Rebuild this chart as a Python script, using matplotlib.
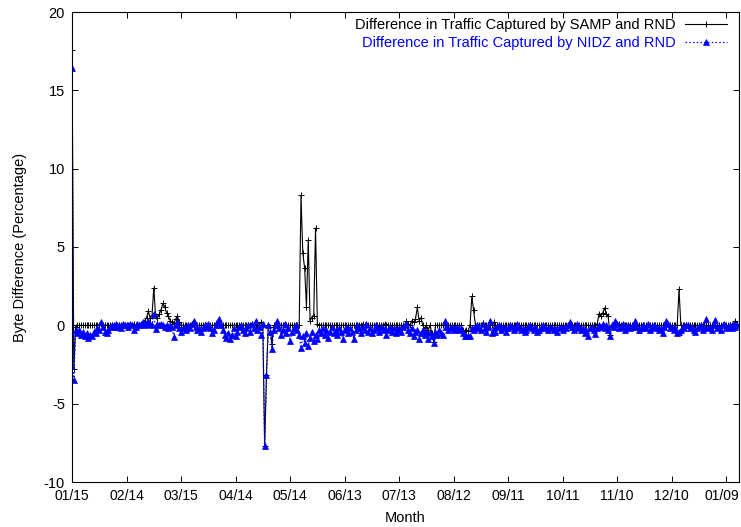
import numpy as np
import matplotlib
matplotlib.use("Agg")
import matplotlib.pyplot as plt
from matplotlib.transforms import ScaledTranslation

plt.rcParams.update({
    "font.family": ["Liberation Sans", "DejaVu Sans"],
    "font.size": 10.5,
    "axes.linewidth": 0.8,
    "axes.unicode_minus": False,
})

# daily byte difference (%) over one year, day 0 = 01/15
samp_rnd = [
    17.6, -2.8, -0.1, 0, 0, 0, 0, 0, 0, 0, 0, 0, 0, 0, 0, 0, 0.1, 0, 0, 0, 0, 0, 0, 0, 0, 0, 0, 0, 0, 0,
    0, 0, 0, 0, 0.1, 0, 0, 0, 0, 0.1, 0.3, 0.5, 0.9, 0.5, 0.6, 2.4, 0.6, 0.5, 0.7, 1.0, 1.4, 1.2, 0.8, 0.6, 0.3, 0.2, 0.1, 0.4, 0.6, 0.2,
    0, 0, 0, 0, 0, 0, 0.1, 0, 0, 0, 0, 0, 0, 0, 0, 0, 0, 0, 0, 0, 0, 0.1, 0, 0, 0, 0, 0, 0, 0, 0,
    0, 0, 0, 0, 0, 0, 0, 0, 0, 0.1, 0, 0, 0, 0, 0.2, 0, -7.7, -3.2, 0, -0.1, -1.2, 0, 0, 0, 0, 0, 0, 0, 0, 0,
    0, 0, 0, 0, 0, 0, 8.3, 4.6, 3.65, 1.2, 5.45, 0.3, 0.5, 0.6, 6.2, 0.1, 0, 0, 0, 0, 0, 0, 0, 0, 0, 0, 0, 0, 0, 0,
    0, 0, 0, 0, 0, 0, 0, 0, 0, 0, 0.1, 0, 0, 0, 0, 0, 0, 0, 0, 0, 0, 0, 0.1, 0, 0, 0, 0, 0, 0, 0,
    0, 0, 0, 0, 0.25, 0.1, 0, 0.3, 0.2, 0.4, 1.15, 0.3, 0.5, 0, -0.2, 0, -0.3, 0, -0.5, -1.05, 0, 0, 0, 0, 0, 0, 0, 0, 0, 0,
    0, 0, 0, 0, 0, -0.3, -0.35, -0.3, -0.35, 0, 1.85, 0.95, 0, 0, 0, 0, 0.15, 0, 0, 0, 0, 0, 0.2, 0, 0, 0, 0, 0, 0, 0,
    0, 0, 0, 0, 0, 0, 0, 0, 0, 0, 0, 0, 0, 0, 0, 0, 0, 0, 0, 0, 0, 0, 0, 0, 0, 0, 0, 0, 0, 0,
    0, 0, 0, 0, 0, 0, 0, 0, 0, 0, 0, 0, 0, 0, 0, 0, 0, 0, 0, 0.1, 0.75, 0.6, 0.8, 1.1, 0.7, 0.6, -0.6, 0, 0, 0,
    0, 0.1, 0, 0, 0, 0, 0, 0, 0, 0, 0, 0, 0, 0, 0, 0, 0, 0, 0, 0, 0, 0, 0, 0, 0, 0, 0, 0, 0, 0,
    0, 0, 0, 0, 2.3, 0, 0, 0, 0, 0, 0, 0, 0, 0, 0, 0, 0, 0, 0, 0, 0, 0, 0, 0, 0, 0, 0, 0, 0, 0,
    0, 0, 0, 0, 0.1, 0.3, 0.1,
]

nidz_rnd = [
    16.4, -3.5, -0.3, -0.5, -0.3, -0.6, -0.4, -0.7, -0.5, -0.8, -0.6, -0.7, -0.4, -0.5, -0.2, -0.3, 0.2, -0.1, -0.4, -0.5, -0.3, -0.1, 0.0, -0.1, 0.1, -0.1, 0.0, -0.2, 0.1, 0.0,
    0.0, -0.1, 0.1, 0.0, -0.3, -0.1, 0.1, 0.0, 0.1, 0.2, 0.0, 0.1, 0.3, 0.1, 0.0, 0.7, -0.25, 0.1, 0.0, 0.1, 0.0, -0.1, 0.0, -0.2, 0.0, -0.1, -0.75, 0.0, 0.2, -0.2,
    -0.4, -0.2, -0.1, -0.3, 0.0, -0.2, 0.1, 0.3, -0.1, -0.3, -0.2, -0.4, -0.2, 0.0, -0.1, 0.1, -0.2, -0.5, -0.3, 0.0, 0.2, 0.4, 0.0, -0.3, -0.6, -0.8, -0.5, -0.9, -0.6, -0.2,
    -0.7, -0.4, -0.1, 0.0, -0.3, -0.5, -0.2, 0.0, -0.4, 0.1, -0.2, 0.3, -0.3, -0.1, -0.6, 0.1, -7.7, -3.2, 0.0, -0.4, -1.5, -0.3, 0.0, 0.3, -0.2, -0.6, -0.3, 0.1, -0.5, -0.2,
    -1.0, -0.4, -0.2, 0.0, -0.3, -0.6, -1.45, -0.7, -1.1, -0.5, -1.3, -0.8, -0.4, -1.0, -0.6, -0.9, -0.3, -0.5, -0.2, -0.6, -0.3, -0.8, -0.4, -0.1, -0.5, -0.3, -0.6, -0.2, -0.4, -0.9,
    -0.3, -0.1, -0.5, -0.2, -0.4, -0.85, -0.3, 0.0, -0.2, -0.5, -0.1, -0.3, 0.1, -0.4, -0.2, -0.5, -0.3, 0.0, -0.2, -0.4, -0.1, -0.3, -0.2, -0.6, -0.3, -0.1, -0.4, -0.2, -0.5, -0.3,
    -0.2, -0.4, -0.1, 0.0, 0.1, -0.3, -0.5, -0.2, -0.7, -0.4, -0.3, -0.85, -0.5, -0.3, -0.6, -0.4, -0.85, -0.5, -0.7, -1.1, -0.4, -0.6, -0.3, -0.5, -0.6, 0.25, -0.1, -0.3, -0.2, -0.1,
    -0.3, -0.2, -0.1, -0.3, -0.2, -0.5, -0.7, -0.7, -0.7, -0.7, -0.2, -0.3, -0.1, 0.0, -0.2, -0.3, 0.1, -0.2, -0.4, -0.1, 0.3, -0.5, -0.2, -0.4, -0.1, 0.0, -0.3, -0.1, -0.2, -0.4,
    -0.2, 0.0, -0.1, -0.3, -0.2, 0.1, -0.1, -0.3, -0.2, -0.4, -0.3, -0.1, 0.0, -0.2, -0.3, -0.1, -0.4, -0.3, -0.2, 0.0, -0.1, -0.2, -0.3, -0.1, -0.2, -0.3, -0.2, -0.4, -0.2, -0.1,
    -0.3, -0.1, -0.2, 0.0, 0.2, -0.1, -0.3, -0.2, 0.1, -0.1, -0.3, -0.2, -0.5, -0.3, -0.65, -0.2, -0.1, -0.3, -0.55, -0.2, 0.0, -0.1, 0.1, -0.2, 0.0, -0.3, -0.65, 0.0, -0.1, 0.3,
    0.1, -0.2, -0.1, 0.1, -0.3, -0.1, 0.0, -0.2, -0.1, 0.0, 0.3, -0.1, -0.3, -0.2, 0.0, -0.1, -0.2, 0.1, -0.3, -0.1, 0.0, -0.2, -0.1, -0.3, -0.2, -0.5, -0.1, 0.3, 0.1, -0.2,
    -0.1, -0.3, -0.2, -0.5, -0.4, -0.3, -0.1, -0.2, 0.0, 0.0, -0.2, -0.1, -0.3, -0.4, -0.2, -0.1, 0.0, -0.3, -0.1, 0.4, -0.2, -0.1, -0.3, 0.0, 0.35, -0.2, -0.1, -0.3, 0.0, 0.1,
    -0.2, -0.1, 0.0, -0.2, 0.1, -0.1, 0.0,
]

tick_days = [0, 30, 60, 90, 120, 150, 180, 210, 240, 270, 300, 330, 360]
tick_labels = ["01/15", "02/14", "03/15", "04/14", "05/14", "06/13", "07/13",
               "08/12", "09/11", "10/11", "11/10", "12/10", "01/09"]

days = np.arange(len(samp_rnd))

fig = plt.figure(figsize=(7.41, 5.27), dpi=100)
ax = fig.add_axes([72 / 741, 1 - 482 / 527, 667 / 741, 470 / 527])

ax.plot(days, samp_rnd, color="black", lw=0.8, marker="+", ms=4, mew=0.7,
        label="Difference in Traffic Captured by SAMP and RND")
ax.plot(days, nidz_rnd, color="blue", lw=0.9, ls=(0, (1.2, 1.8)), marker="^", ms=3.8,
        mew=0.5, label="Difference in Traffic Captured by NIDZ and RND")

ax.set_xlim(0, 367)
ax.set_ylim(-10, 20)
ax.set_xticks(tick_days)
ax.set_xticklabels(tick_labels)
ax.set_yticks(range(-10, 21, 5))
ax.tick_params(direction="in", top=True, right=True, length=4.5, width=0.7, pad=5)
ax.tick_params(axis="x", labelsize=10)
ax.set_xlabel("Month", labelpad=6)
ax.set_ylabel("Byte Difference (Percentage)", labelpad=12)

# nudge the last month label so it stays inside the canvas
last = ax.get_xticklabels()[-1]
last.set_transform(last.get_transform() + ScaledTranslation(-3 / 72, 0, fig.dpi_scale_trans))

ax.legend(loc="upper right", bbox_to_anchor=(0.982, 0.987), frameon=False,
          markerfirst=False, handlelength=2.9, handletextpad=0.6,
          labelspacing=0.25, borderpad=0, borderaxespad=0, numpoints=1,
          labelcolor=["black", "blue"])

fig.savefig("out.png", dpi=100)
